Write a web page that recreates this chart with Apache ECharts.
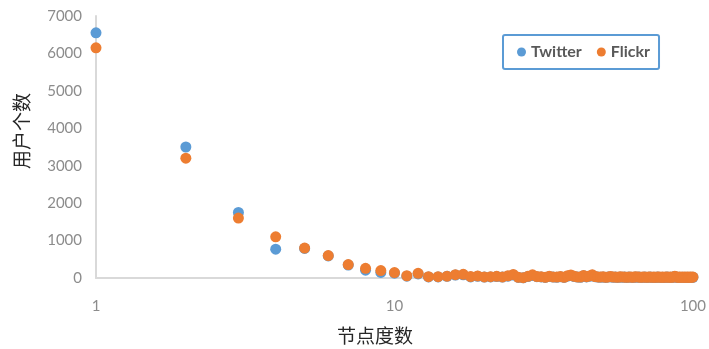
<!DOCTYPE html>
<html>
<head>
<meta charset="utf-8">
<script src="https://cdn.jsdelivr.net/npm/echarts@6/dist/echarts.min.js"></script>
<style>
  html, body { margin: 0; padding: 0; background: #ffffff; }
  #chart { width: 709px; height: 349px; }
</style>
</head>
<body>
<div id="chart"></div>
<script>
// Node degree (x) vs. number of users (y)
const degrees = [
  1, 2, 3, 4, 5, 6, 7, 8, 9, 10,
  11, 12, 13, 14, 15, 16, 17, 18, 19, 20,
  21, 22, 23, 24, 25, 26, 27, 28, 29, 30,
  31, 32, 33, 34, 35, 36, 37, 38, 39, 40,
  41, 42, 43, 44, 45, 46, 47, 48, 49, 50,
  51, 52, 53, 54, 55, 56, 57, 58, 59, 60,
  61, 62, 63, 64, 65, 66, 67, 68, 69, 70,
  71, 72, 73, 74, 75, 76, 77, 78, 79, 80,
  81, 82, 83, 84, 85, 86, 87, 88, 89, 90,
  91, 92, 93, 94, 95, 96, 97, 98, 99, 100
];

const twitterUsers = [
  6550, 3500, 1750, 770, 790, 590, 345, 210, 150, 130,
  50, 110, 30, 30, 45, 80, 85, 30, 45, 25,
  30, 40, 25, 50, 80, 15, 5, 40, 70, 35,
  30, 15, 40, 25, 20, 35, 15, 50, 70, 40,
  25, 20, 60, 30, 45, 75, 35, 25, 20, 30,
  15, 25, 35, 20, 25, 15, 30, 20, 25, 15,
  25, 20, 15, 30, 20, 25, 15, 20, 25, 15,
  20, 25, 15, 20, 15, 25, 20, 15, 20, 15,
  20, 25, 15, 20, 15, 25, 40, 20, 15, 20,
  15, 20, 15, 20, 15, 20, 15, 20, 15, 20
];

const flickrUsers = [
  6150, 3200, 1600, 1100, 800, 600, 360, 260, 200, 145,
  60, 125, 35, 35, 50, 88, 98, 40, 55, 30,
  35, 45, 30, 60, 95, 20, 10, 45, 85, 40,
  35, 20, 50, 30, 25, 40, 20, 60, 80, 45,
  30, 25, 70, 35, 55, 85, 40, 30, 25, 35,
  20, 30, 40, 25, 30, 20, 35, 25, 30, 20,
  30, 25, 20, 35, 25, 30, 20, 25, 30, 20,
  25, 30, 20, 25, 20, 30, 25, 20, 25, 20,
  25, 30, 20, 25, 20, 30, 45, 25, 20, 25,
  20, 25, 20, 25, 20, 25, 20, 25, 20, 25
];

const seriesNames = ['Twitter', 'Flickr'];
const xAxisTitle = '节点度数';
const yAxisTitle = '用户个数';

const pairs = (xs, ys) => xs.map((x, i) => [x, ys[i]]);

const chart = echarts.init(document.getElementById('chart'), null, { renderer: 'canvas' });

chart.setOption({
  backgroundColor: '#ffffff',
  animation: false,
  grid: { left: 96, right: 15, top: 16, bottom: 71, containLabel: false },
  legend: {
    data: seriesNames,
    left: 503,
    top: 35,
    padding: [9, 9, 9, 14],
    borderColor: '#5b9bd5',
    borderWidth: 2,
    borderRadius: 2,
    itemWidth: 9,
    itemHeight: 9,
    itemGap: 15,
    icon: 'circle',
    textStyle: { color: '#595959', fontSize: 16, fontFamily: 'Lato', fontWeight: 'bold', padding: [0, 0, 0, 0] }
  },
  xAxis: {
    type: 'log',
    logBase: 10,
    min: 1,
    max: 100,
    axisLine: { show: true, lineStyle: { color: '#d9d9d9', width: 2 } },
    axisTick: { show: false },
    splitLine: { show: false },
    minorTick: { show: false },
    axisLabel: { color: '#8c8c8c', fontSize: 15, fontFamily: 'Lato', margin: 21 }
  },
  yAxis: {
    type: 'value',
    min: 0,
    max: 7000,
    interval: 1000,
    axisLine: { show: true, lineStyle: { color: '#d9d9d9', width: 2 } },
    axisTick: { show: false },
    splitLine: { show: false },
    axisLabel: {
      color: '#8c8c8c',
      fontSize: 15,
      fontFamily: 'Lato',
      margin: 14,
      formatter: (v) => String(v)
    }
  },
  graphic: [
    {
      type: 'text',
      x: 22,
      y: 131,
      rotation: Math.PI / 2,
      style: {
        text: yAxisTitle,
        fill: '#262626',
        font: '19px "Noto Sans CJK SC"',
        textAlign: 'center',
        textVerticalAlign: 'middle'
      }
    },
    {
      type: 'text',
      x: 375,
      y: 336,
      style: {
        text: xAxisTitle,
        fill: '#262626',
        font: '19px "Noto Sans CJK SC"',
        textAlign: 'center',
        textVerticalAlign: 'middle'
      }
    }
  ],
  series: [
    {
      name: seriesNames[0],
      type: 'scatter',
      symbol: 'circle',
      symbolSize: 11,
      itemStyle: { color: '#5b9bd5', opacity: 1 },
      data: pairs(degrees, twitterUsers)
    },
    {
      name: seriesNames[1],
      type: 'scatter',
      symbol: 'circle',
      symbolSize: 11,
      itemStyle: { color: '#ed7d31', opacity: 1 },
      data: pairs(degrees, flickrUsers)
    }
  ]
});
</script>
</body>
</html>
